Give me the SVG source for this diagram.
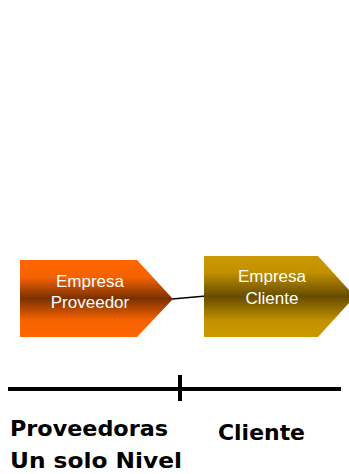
<svg xmlns="http://www.w3.org/2000/svg" width="349" height="474" viewBox="0 0 349 474">
  <defs>
    <linearGradient id="gradOrange" x1="0" y1="0" x2="0" y2="1">
      <stop offset="0" stop-color="#FF6600"/>
      <stop offset="0.22" stop-color="#F56200"/>
      <stop offset="0.5" stop-color="#7A3100"/>
      <stop offset="0.78" stop-color="#F56200"/>
      <stop offset="1" stop-color="#FF6600"/>
    </linearGradient>
    <linearGradient id="gradGold" x1="0" y1="0" x2="0" y2="1">
      <stop offset="0" stop-color="#CC9900"/>
      <stop offset="0.2" stop-color="#C29100"/>
      <stop offset="0.5" stop-color="#664C00"/>
      <stop offset="0.8" stop-color="#C29100"/>
      <stop offset="1" stop-color="#CC9900"/>
    </linearGradient>
    <style>
      .node-label { font-family: "Liberation Sans", Arial, sans-serif; font-size: 17px; fill: #FFFFFF; text-anchor: middle; }
      .axis { stroke: #000000; stroke-width: 4; fill: none; }
      .caption { font-family: "Comic Sans MS", "DejaVu Sans", sans-serif; font-weight: bold; font-size: 22px; fill: #000000; }
      .link { stroke: #000000; stroke-width: 1.3; fill: none; }
    </style>
  </defs>

  <!-- connector between the two companies -->
  <g id="connectors">
    <line class="link" x1="172" y1="299" x2="206" y2="296"/>
  </g>

  <!-- supplier company -->
  <g id="empresa-proveedor">
    <polygon points="20,260 137,260 173,299 137,337 20,337" fill="url(#gradOrange)"/>
    <text class="node-label" x="90" y="287">Empresa</text>
    <text class="node-label" x="90" y="308">Proveedor</text>
  </g>

  <!-- client company -->
  <g id="empresa-cliente">
    <polygon points="204,256 318,256 355,296.5 318,337 204,337" fill="url(#gradGold)"/>
    <text class="node-label" x="272" y="282">Empresa</text>
    <text class="node-label" x="272" y="304">Cliente</text>
  </g>

  <!-- level axis -->
  <g id="axis">
    <line class="axis" x1="8" y1="389" x2="341" y2="389"/>
    <line class="axis" x1="180" y1="375" x2="180" y2="401"/>
  </g>

  <g id="captions">
    <text class="caption" x="10" y="436" textLength="158" lengthAdjust="spacingAndGlyphs">Proveedoras</text>
    <text class="caption" x="10" y="468" textLength="172" lengthAdjust="spacingAndGlyphs">Un solo Nivel</text>
    <text class="caption" x="218" y="440" textLength="87" lengthAdjust="spacingAndGlyphs">Cliente</text>
  </g>
</svg>
